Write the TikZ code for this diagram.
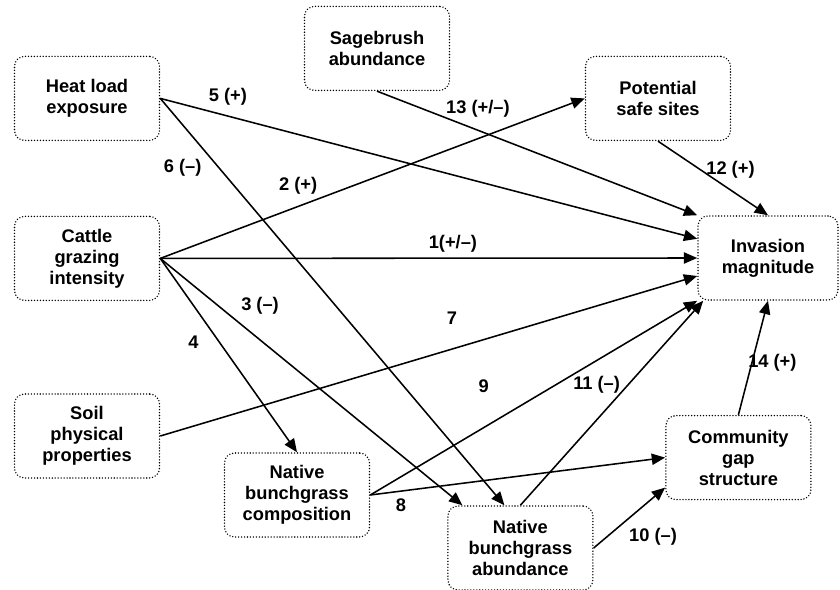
\documentclass[tikz,border=0pt]{standalone}
\usepackage{fontspec}
\setmainfont{Liberation Sans}
\usetikzlibrary{arrows.meta}

\begin{document}
\begin{tikzpicture}[font=\bfseries\fontsize{13}{15}\selectfont,
  box/.style={draw,line width=1.1pt,dash pattern=on 0pt off 2.1pt,line cap=round,rounded corners=0.25cm,minimum width=3.625cm,minimum height=2.1cm,align=center},
  link/.style={line width=1.1pt,-{Triangle[length=9.5pt,width=8pt]}}]
\useasboundingbox (0,0) rectangle (21,-14.75);
\path (2.175,-2.46) node[box](Heat){Heat load\\exposure} (9.425,-1.21) node[box](Sagebrush){Sagebrush\\abundance} (16.45,-2.46) node[box](Safesites){Potential\\safe sites} (2.175,-6.46) node[box](Cattle){Cattle\\grazing\\intensity} (19.2,-6.45) node[box,minimum width=3.5cm](Invasion){Invasion\\magnitude} (2.175,-10.9) node[box](Soil){Soil\\physical\\properties} (7.425,-12.375) node[box](Composition){Native\\bunchgrass\\composition} (13.01,-13.7) node[box](Abundance){Native\\bunchgrass\\abundance} (18.46,-11.44) node[box](Gap){Community\\gap\\structure};

\draw[link] (Cattle.east) -- node[pos=0.545,above](e1){1(+/–)} (Invasion.west);
\draw[link] (Cattle.east) -- node[pos=0.325,above=5pt](e2){2 (+)} (Safesites.west);
\draw[link] (Cattle.east) -- node[pos=0.25,above right](e3){3 (–)} ([xshift=-1.45cm]Abundance.north);
\draw[link] (Cattle.east) -- node[pos=0.35,below left=3pt](e4){4} (Composition.north);
\draw[link] (Heat.east) -- node[pos=0.126,above=3.5pt](e5){5 (+)} ([yshift=0.48cm]Invasion.west);
\draw[link] (Heat.east) -- node[pos=0.17,left=8.5pt](e6){6 (–)} ([xshift=-0.4cm]Abundance.north);
\draw[link] (Soil.east) -- node[pos=0.543,above=13.5pt](e7){7} ([yshift=-0.45cm]Invasion.west);
\draw[link] (Composition.east) -- node[pos=0.104,below=1.5pt](e8){8} (Gap.west);
\draw[link] (Composition.east) -- node[pos=0.347,above=21pt](e9){9} (Invasion.south west);
\draw[link] (Abundance.east) -- node[pos=0.42,below right](e10){10 (–)} ([yshift=-0.75cm]Gap.west);
\draw[link] (Abundance.north) -- node[pos=0.59,left=2pt](e11){11 (–)} ([xshift=0.15cm]Invasion.south west);
\draw[link] (Safesites.south) -- node[pos=0.39,right](e12){12 (+)} (Invasion.north);
\draw[link] (Sagebrush.south) -- node[pos=0.315,above=5.5pt](e13){13 (+/–)} (Invasion.north west);
\draw[link] (Gap.north) -- node[pos=0.457,right=-6.5pt](e14){14 (+)} (Invasion.south);
\end{tikzpicture}
\end{document}
